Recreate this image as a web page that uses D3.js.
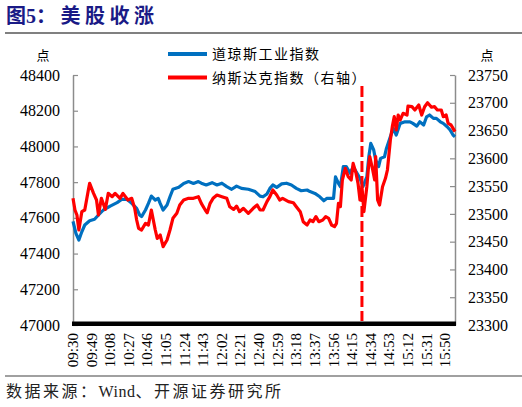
<!DOCTYPE html>
<html>
<head>
<meta charset="utf-8">
<script src="https://cdn.jsdelivr.net/npm/d3@7"></script>
<style>
  body { margin: 0; background: #fff; }
  svg { display: block; }
  text { font-family: "Liberation Serif", "Times New Roman", serif; }
  .cjk { font-family: "Noto Sans CJK SC", sans-serif; }
</style>
</head>
<body>
<svg id="chart" width="522" height="407"></svg>
<script>
"use strict";

// Dow Jones (left axis)
const dowTimes = [
  "09:30","09:33","09:36","09:39","09:42","09:47","09:52","09:56","10:01","10:08",
  "10:15","10:20","10:25","10:30","10:35","10:38","10:40","10:44","10:47","10:50",
  "10:54","10:57","10:59","11:02","11:06","11:09","11:12","11:18","11:23","11:28",
  "11:33","11:38","11:41","11:46","11:52","11:57","12:02","12:07","12:12","12:17",
  "12:22","12:29","12:36","12:41","12:44","12:48","12:51","12:54","12:58","13:03",
  "13:08","13:13","13:18","13:23","13:29","13:32","13:37","13:42","13:46","13:49",
  "13:52","13:56","13:58","14:01","14:03","14:06","14:09","14:13","14:16","14:20",
  "14:23","14:26","14:30","14:32","14:34","14:37","14:39","14:42","14:44","14:48",
  "14:50","14:54","14:57","15:00","15:04","15:09","15:14","15:17","15:21","15:24",
  "15:28","15:31","15:34","15:38","15:41","15:45","15:48","15:52","15:55","15:58",
  "16:00"
];
const dowValues = [
  47580, 47513, 47476, 47522, 47560, 47584, 47592, 47616, 47644, 47666,
  47685, 47704, 47704, 47681, 47653, 47616, 47607, 47644, 47681, 47722,
  47700, 47709, 47681, 47644, 47672, 47718, 47760, 47771, 47793, 47803,
  47793, 47803, 47794, 47784, 47797, 47784, 47794, 47775, 47760, 47778,
  47765, 47760, 47747, 47722, 47718, 47734, 47765, 47784, 47771, 47790,
  47794, 47784, 47765, 47752, 47756, 47747, 47737, 47718, 47696, 47709,
  47709, 47709, 47830, 47793, 47775, 47887, 47887, 47850, 47887, 47850,
  47822, 47775, 47830, 47942, 48017, 47980, 47924, 47887, 47933, 47942,
  47989, 48054, 48101, 48064, 48129, 48138, 48138, 48129, 48114, 48138,
  48120, 48166, 48176, 48157, 48157, 48138, 48129, 48110, 48092, 48064,
  48054
];

// Nasdaq (right axis)
const ndxTimes = [
  "09:30","09:32","09:34","09:36","09:39","09:42","09:46","09:47","09:51","09:54",
  "09:56","09:59","10:03","10:06","10:10","10:13","10:18","10:21","10:26","10:30",
  "10:33","10:35","10:37","10:40","10:44","10:47","10:50","10:54","10:56","10:59",
  "11:02","11:06","11:09","11:12","11:16","11:19","11:23","11:28","11:33","11:38",
  "11:41","11:45","11:47","11:50","11:53","11:57","12:02","12:07","12:10","12:14",
  "12:17","12:20","12:24","12:29","12:34","12:38","12:41","12:44","12:48","12:51",
  "12:54","12:58","13:01","13:04","13:10","13:15","13:18","13:22","13:25","13:29",
  "13:32","13:35","13:38","13:41","13:45","13:48","13:51","13:54","13:57","13:59",
  "14:01","14:03","14:05","14:08","14:11","14:14","14:16","14:19","14:21","14:23",
  "14:25","14:27","14:30","14:32","14:33","14:36","14:38","14:39","14:41","14:43",
  "14:46","14:49","14:51","14:54","14:56","14:58","15:00","15:02","15:04","15:07",
  "15:11","15:12","15:16","15:19","15:23","15:26","15:29","15:32","15:36","15:39",
  "15:42","15:46","15:48","15:51","15:53","15:56","15:58","16:00"
];
const ndxValues = [
  23528, 23507, 23498, 23471, 23504, 23507, 23546, 23555, 23537, 23525,
  23498, 23528, 23508, 23537, 23531, 23537, 23528, 23537, 23525, 23528,
  23510, 23489, 23474, 23471, 23483, 23480, 23507, 23471, 23456, 23462,
  23441, 23453, 23471, 23492, 23501, 23516, 23525, 23528, 23528, 23531,
  23519, 23507, 23502, 23519, 23528, 23534, 23531, 23528, 23513, 23508,
  23514, 23504, 23510, 23501, 23510, 23516, 23507, 23507, 23522, 23531,
  23543, 23534, 23525, 23528, 23522, 23520, 23513, 23504, 23486, 23480,
  23489, 23486, 23495, 23486, 23489, 23495, 23492, 23480, 23477, 23483,
  23519, 23513, 23561, 23582, 23567, 23561, 23591, 23573, 23555, 23525,
  23549, 23504, 23549, 23591, 23603, 23579, 23561, 23603, 23525, 23516,
  23549, 23564, 23579, 23633, 23657, 23675, 23651, 23678, 23669, 23681,
  23678, 23694, 23693, 23687, 23696, 23678, 23693, 23700, 23692, 23693,
  23687, 23687, 23675, 23678, 23663, 23660, 23654, 23648
];

const xTickLabels = [
  "09:30","09:49","10:08","10:27","10:46","11:05","11:24","11:43","12:02","12:21",
  "12:40","12:59","13:18","13:37","13:56","14:15","14:34","14:53","15:12","15:31","15:50"
];
const leftTicks = [47000, 47200, 47400, 47600, 47800, 48000, 48200, 48400];
const rightTicks = [23300, 23350, 23400, 23450, 23500, 23550, 23600, 23650, 23700, 23750];
const eventTime = "14:25";

const seriesNames = ["道琼斯工业指数", "纳斯达克指数（右轴）"];
const colors = ["#0070C0", "#FF0000"];

const serif = "'Liberation Serif', 'Times New Roman', serif";

function toMin(t) {
    const [h, m] = t.split(":").map(Number);
    return h * 60 + m - 570;
}

const svg = d3.select("#chart");
const plotLeft = 73, plotRight = 455, plotTop = 75, plotBottom = 325;

const x = d3.scaleLinear().domain([0, 390]).range([plotLeft, plotRight]);
const yL = d3.scaleLinear().domain([47000, 48400]).range([plotBottom, plotTop]);
const yR = d3.scaleLinear().domain([23300, 23750]).range([plotBottom, plotTop]);

// title
const title = svg.append("text").attr("x", 6).attr("y", 23)
    .attr("fill", "#1a1a86").attr("font-weight", "bold").attr("font-size", 20);
title.append("tspan").attr("class", "cjk").text("图");
title.append("tspan").text("5");
title.append("tspan").attr("class", "cjk").attr("letter-spacing", 4.5).text("：美股收涨");

svg.append("line").attr("x1", 5).attr("x2", 522).attr("y1", 33).attr("y2", 33)
    .attr("stroke", "#808080").attr("stroke-width", 2);

// axes
const axL = svg.append("g").attr("transform", `translate(${plotLeft},0)`)
    .call(d3.axisLeft(yL).tickValues(leftTicks).tickFormat(d3.format("d"))
        .tickSizeInner(-5).tickSizeOuter(0).tickPadding(13));
const axR = svg.append("g").attr("transform", `translate(${plotRight},0)`)
    .call(d3.axisRight(yR).tickValues(rightTicks).tickFormat(d3.format("d"))
        .tickSizeInner(-5).tickSizeOuter(0).tickPadding(13));
[axL, axR].forEach(g => {
    g.select(".domain").attr("stroke", "#8c8c8c").attr("stroke-width", 1.5);
    g.selectAll(".tick line").attr("stroke", "#8c8c8c").attr("stroke-width", 1.2);
    g.selectAll(".tick text").style("font-family", serif)
        .attr("font-size", 16).attr("fill", "#000");
});

svg.append("text").attr("class", "cjk").attr("x", 43).attr("y", 60)
    .attr("text-anchor", "middle").attr("font-size", 13).text("点");
svg.append("text").attr("class", "cjk").attr("x", 487).attr("y", 60)
    .attr("text-anchor", "middle").attr("font-size", 13).text("点");

// x axis: thick black bar
svg.append("rect").attr("x", plotLeft - 1).attr("y", plotBottom - 3.5)
    .attr("width", plotRight - plotLeft + 2).attr("height", 4.5).attr("fill", "#000");

svg.append("g").selectAll("text").data(xTickLabels).join("text")
    .attr("transform", d => `translate(${x(toMin(d)) + 5},333) rotate(-90)`)
    .style("font-family", serif)
    .attr("text-anchor", "end").attr("font-size", 15).text(d => d);

// lines
const dowData = dowTimes.map((t, i) => [toMin(t), dowValues[i]]);
const ndxData = ndxTimes.map((t, i) => [toMin(t), ndxValues[i]]);

svg.append("path").datum(dowData)
    .attr("fill", "none").attr("stroke", colors[0]).attr("stroke-width", 3.2)
    .attr("stroke-linejoin", "round")
    .attr("d", d3.line().x(d => x(d[0])).y(d => yL(d[1])));
svg.append("path").datum(ndxData)
    .attr("fill", "none").attr("stroke", colors[1]).attr("stroke-width", 3.2)
    .attr("stroke-linejoin", "round")
    .attr("d", d3.line().x(d => x(d[0])).y(d => yR(d[1])));

// event marker
svg.append("line")
    .attr("x1", x(toMin(eventTime))).attr("x2", x(toMin(eventTime)))
    .attr("y1", 86).attr("y2", plotBottom - 4)
    .attr("stroke", "#FF0000").attr("stroke-width", 3).attr("stroke-dasharray", "11,4");

// legend
const legend = svg.append("g");
seriesNames.forEach((name, i) => {
    const ly = 54 + i * 23.5;
    legend.append("line").attr("x1", 168).attr("x2", 207).attr("y1", ly).attr("y2", ly)
        .attr("stroke", colors[i]).attr("stroke-width", 4);
    legend.append("text").attr("class", "cjk").attr("x", 212).attr("y", ly + 5)
        .attr("font-size", 14).attr("letter-spacing", 1.5).text(name);
});

// source
svg.append("line").attr("x1", 5).attr("x2", 522).attr("y1", 376).attr("y2", 376)
    .attr("stroke", "#808080").attr("stroke-width", 1.5);
const src = svg.append("text").attr("x", 6).attr("y", 397).attr("font-size", 16).attr("fill", "#222");
src.append("tspan").attr("class", "cjk").attr("letter-spacing", 2.5).text("数据来源：");
src.append("tspan").attr("letter-spacing", 0.5).text("Wind");
src.append("tspan").attr("class", "cjk").attr("letter-spacing", 2.5).text("、开源证券研究所");
</script>
</body>
</html>
